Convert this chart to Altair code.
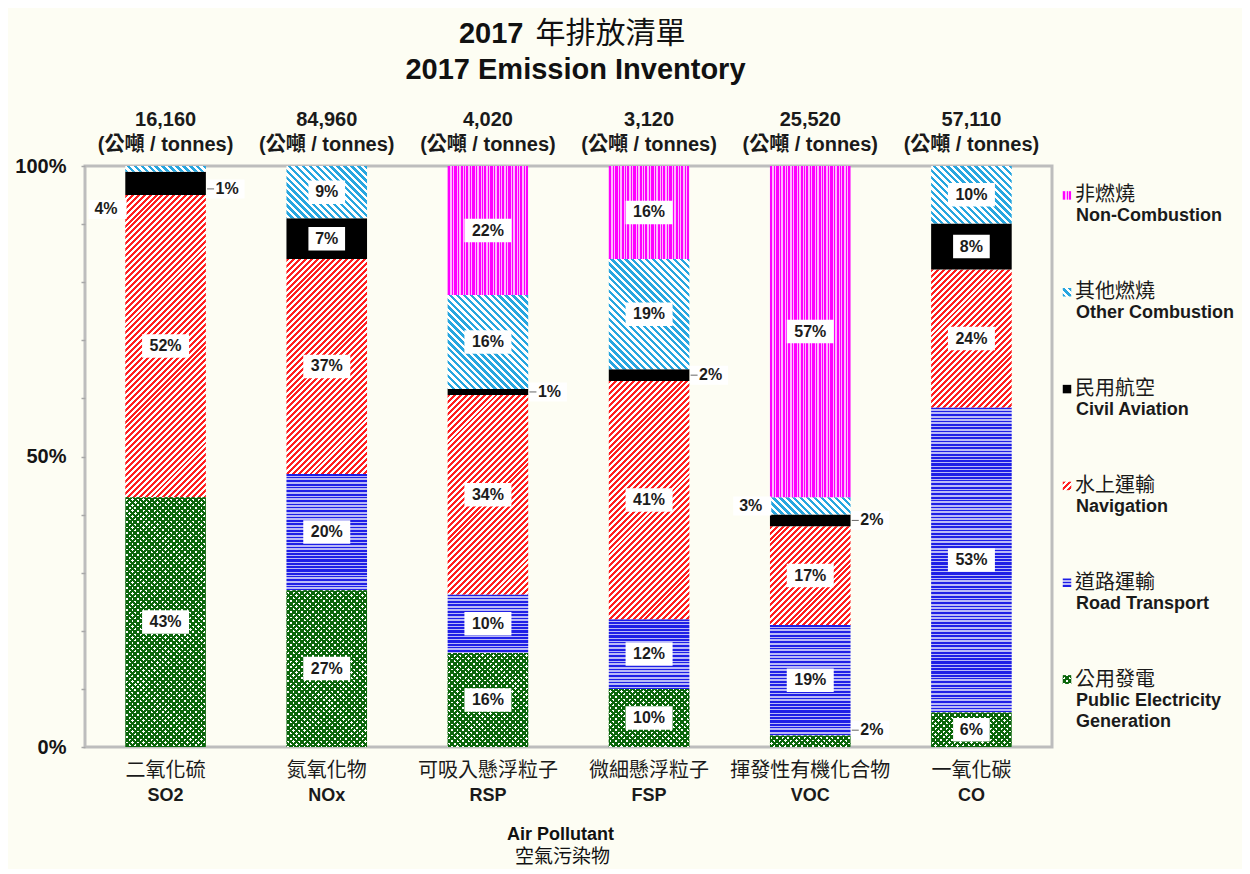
import math
import altair as alt
import pandas as pd

# ---------------- data ----------------
pollutants = ["SO2", "NOx", "RSP", "FSP", "VOC", "CO"]
pollutants_zh = ["二氧化硫", "氮氧化物", "可吸入懸浮粒子", "微細懸浮粒子", "揮發性有機化合物", "一氧化碳"]
totals = ["16,160", "84,960", "4,020", "3,120", "25,520", "57,110"]

source_keys = ["PE", "Road", "Nav", "Civil", "Other", "NonComb"]  # bottom -> top
source_en = ["Public Electricity\nGeneration", "Road Transport", "Navigation",
             "Civil Aviation", "Other Combustion", "Non-Combustion"]
source_zh = ["公用發電", "道路運輸", "水上運輸", "民用航空", "其他燃燒", "非燃燒"]

# percentage shares, one value per pollutant (SO2, NOx, RSP, FSP, VOC, CO)
public_electricity = [43, 27, 16, 10, 2, 6]
road_transport = [0, 20, 10, 12, 19, 53]
navigation = [52, 37, 34, 41, 17, 24]
civil_aviation = [4, 7, 1, 2, 2, 8]
other_combustion = [1, 9, 16, 19, 3, 10]
non_combustion = [0, 0, 22, 16, 57, 0]

series = [public_electricity, road_transport, navigation,
          civil_aviation, other_combustion, non_combustion]

# labels drawn outside the bar (side) and small vertical nudges in px
label_side = {("SO2", "Civil"): "left", ("SO2", "Other"): "right",
              ("RSP", "Civil"): "right", ("FSP", "Civil"): "right",
              ("VOC", "Other"): "left", ("VOC", "Civil"): "right",
              ("VOC", "PE"): "right"}
label_nudge = {("SO2", "Civil"): 26, ("SO2", "Other"): 20, ("VOC", "PE"): -11}

# ---------------- layout / style ----------------
FONT = "Liberation Sans, Noto Sans CJK TC, sans-serif"
W, H = 967, 581
STEP = W / 6.0
BW = STEP * 0.5
SQ2 = math.sqrt(2.0)


def stripe_gradient(w, h, direction, seq, c_on, c_off):
    """Linear gradient with hard stops that renders as a stripe pattern."""
    if direction == "h":
        x1, y1, x2, y2, L = 0, 0, 1e-6, 1, h
    elif direction == "v":
        x1, y1, x2, y2, L = 0, 0, 1, 0, w
    else:
        k = (w + h) / (w * w + h * h)
        L = (w + h) / SQ2
        if direction == "fwd":
            x1, y1, x2, y2 = 0, 0, w * k, h * k
        else:
            x1, y1, x2, y2 = 1, 0, 1 - w * k, h * k
    stops = []
    pos = 0.0
    i = 0
    while pos < L:
        on, off = seq[i % len(seq)]
        a = pos / L
        b = min((pos + on) / L, 1.0)
        c = min((pos + on + off) / L, 1.0)
        stops += [{"offset": round(a, 5), "color": c_on},
                  {"offset": round(b, 5), "color": c_on},
                  {"offset": round(b, 5), "color": c_off},
                  {"offset": round(c, 5), "color": c_off}]
        pos += on + off
        i += 1
    return {"gradient": "linear", "x1": round(x1, 6), "y1": round(y1, 6),
            "x2": round(x2, 6), "y2": round(y2, 6), "stops": stops}


PATTERNS = {
    "PE": ("fwd", [(2.1, 1.8)], "#0b660b", "#ffffff"),
    "Road": ("h", [(1.8, 1.5), (1.2, 1.8), (2.2, 1.4)], "#1f1fe6", "#b9b9f7"),
    "Nav": ("fwd", [(2.1, 2.1)], "#ff1f1f", "#ffffff"),
    "Other": ("back", [(2.4, 2.5)], "#27a6df", "#ffffff"),
    "NonComb": ("v", [(2, 2), (1, 1), (3, 1), (1, 2), (2, 1), (1, 1)], "#ff00ff", "#ffb6ff"),
}
PE_OVER = ("back", [(2.1, 1.8)], "#0b660b", "rgba(255,255,255,0)")


def fill_for(key, w, h, over=False):
    if key == "Civil":
        return "#000000"
    d, seq, con, coff = PE_OVER if over else PATTERNS[key]
    return stripe_gradient(w, h, d, seq, con, coff)


# ---------------- tables ----------------
rows = []
for j, p in enumerate(pollutants):
    tot = float(sum(s[j] for s in series))
    cum = 0.0
    for i, k in enumerate(source_keys):
        v = series[i][j]
        if v == 0:
            continue
        mid = (cum + v / 2.0) / tot
        cum += v
        side = label_side.get((p, k), "in")
        nudge = label_nudge.get((p, k), 0)
        rows.append({"pollutant": p, "source": k, "ord": i, "value": v,
                     "key": f"{p}|{k}", "lab": f"{v}%", "mid": mid,
                     "ly": mid - nudge / H, "side": side, "hpx": v / tot * H})
df = pd.DataFrame(rows)

conds = [{"test": f"datum.key === '{r['key']}'", "value": fill_for(r["source"], BW, r["hpx"])}
         for r in rows]
conds_pe = [{"test": f"datum.key === '{r['key']}'", "value": fill_for("PE", BW, r["hpx"], over=True)}
            for r in rows if r["source"] == "PE"]

xscale = alt.Scale(domain=pollutants, paddingInner=0.5, paddingOuter=0.25)
X = alt.X("pollutant:N", scale=xscale, axis=None, sort=pollutants)

yaxis = alt.Axis(values=[0, 0.1, 0.2, 0.3, 0.4, 0.5, 0.6, 0.7, 0.8, 0.9, 1],
                 labelExpr="(datum.value == 0 || datum.value == 0.5 || datum.value == 1) ? format(datum.value, '.0%') : ''",
                 domain=False, grid=False, ticks=True, tickSize=4, tickColor="#a8a8a8",
                 tickWidth=1.5, labelFont=FONT, labelFontSize=20, labelFontWeight="bold",
                 labelColor="#151515", labelPadding=15, labelOverlap=False, labelFlush=False)
yscale = alt.Scale(domain=[0, 1], nice=False)

bars = alt.Chart(df).mark_bar(strokeWidth=0).encode(
    x=X,
    y=alt.Y("value:Q", stack="normalize", scale=yscale, axis=yaxis, title=None),
    order=alt.Order("ord:Q", sort="ascending"),
    fill={"condition": conds, "value": "#cccccc"},
)
bars_pe = alt.Chart(df).mark_bar(strokeWidth=0).encode(
    x=X,
    y=alt.Y("value:Q", stack="normalize", scale=yscale, title=None),
    order=alt.Order("ord:Q", sort="ascending"),
    fill={"condition": conds_pe, "value": "rgba(255,255,255,0)"},
)

BOX_BIG = "M-1,-0.5H1V0.5H-1Z"
BOX_SMALL = "M-0.78,-0.5H0.78V0.5H-0.78Z"

df_in = df[df["side"] == "in"]
df_r = df[df["side"] == "right"]
df_l = df[df["side"] == "left"]

Yl = alt.Y("ly:Q", scale=yscale, stack=None, title=None)

boxes_in = alt.Chart(df_in).mark_point(filled=True, color="white", opacity=1, size=2209, strokeWidth=0).encode(
    x=X, y=Yl,
    shape=alt.condition("datum.value < 10", alt.value(BOX_SMALL), alt.value(BOX_BIG)),
)
text_in = alt.Chart(df_in).mark_text(font=FONT, fontSize=16, fontWeight="bold", color="#1c1c1c",
                                     baseline="middle").encode(x=X, y=Yl, text="lab:N")

boxes_r = alt.Chart(df_r).mark_point(filled=True, color="white", opacity=1, size=1444, strokeWidth=0,
                                     shape=BOX_BIG, xOffset=60).encode(x=X, y=Yl)
text_r = alt.Chart(df_r).mark_text(font=FONT, fontSize=16, fontWeight="bold", color="#1c1c1c",
                                   align="left", baseline="middle", dx=50).encode(x=X, y=Yl, text="lab:N")
lead_r = alt.Chart(df_r).mark_tick(size=7, thickness=1, color="#666666", xOffset=45, opacity=1).encode(
    x=X, y=alt.Y("ly:Q", scale=yscale, stack=None, title=None))

boxes_l = alt.Chart(df_l).mark_point(filled=True, color="white", opacity=1, size=1444, strokeWidth=0,
                                     shape=BOX_BIG, xOffset=-58).encode(x=X, y=Yl)
text_l = alt.Chart(df_l).mark_text(font=FONT, fontSize=16, fontWeight="bold", color="#1c1c1c",
                                   align="right", baseline="middle", dx=-48).encode(x=X, y=Yl, text="lab:N")

df_p = pd.DataFrame({"pollutant": pollutants, "zh": pollutants_zh, "total": totals,
                     "unit": ["(公噸 / tonnes)"] * len(pollutants)})
top1 = alt.Chart(df_p).mark_text(font=FONT, fontSize=20, fontWeight="bold", color="#1a1a1a",
                                 baseline="middle", dy=-46).encode(x=X, y=alt.datum(1), text="total:N")
top2 = alt.Chart(df_p).mark_text(font=FONT, fontSize=20, fontWeight="bold", color="#1a1a1a",
                                 baseline="middle", dy=-21).encode(x=X, y=alt.datum(1), text="unit:N")
bot1 = alt.Chart(df_p).mark_text(font=FONT, fontSize=20, fontWeight="normal", color="#1a1a1a",
                                 baseline="middle", dy=24).encode(x=X, y=alt.datum(0), text="zh:N")
bot2 = alt.Chart(df_p).mark_text(font=FONT, fontSize=18, fontWeight="bold", color="#1a1a1a",
                                 baseline="middle", dy=49).encode(x=X, y=alt.datum(0), text="pollutant:N")

one = pd.DataFrame({"a": [0]})


def free_text(txt, x, y, size, weight, align="center"):
    return alt.Chart(one).mark_text(font=FONT, fontSize=size, fontWeight=weight, color="#111111",
                                    align=align, baseline="middle").encode(
        x=alt.value(x), y=alt.value(y), text=alt.value(txt))


t_a = free_text("2017", W / 2 - 45, -132, 29, "bold", "right")
t_b = free_text("年排放清單", W / 2 - 33, -132, 30, "normal", "left")
t_c = free_text("2017 Emission Inventory", W / 2 + 7, -96, 29, "bold")
ax_a = free_text("Air Pollutant", W / 2 - 8, H + 88, 18, "bold")
ax_b = free_text("空氣污染物", W / 2 - 6, H + 110, 19, "normal")

main = alt.layer(bars, bars_pe, boxes_in, text_in, boxes_r, lead_r, text_r, boxes_l, text_l,
                 top1, top2, bot1, bot2, t_a, t_b, t_c, ax_a, ax_b)

# ---------------- legend ----------------
leg_order = list(reversed(source_keys))
df_leg = pd.DataFrame({"key": source_keys, "zh": source_zh, "en": source_en})
lscale = alt.Scale(type="point", domain=leg_order, padding=0.5)
LY = alt.Y("key:N", scale=lscale, axis=None, title=None)
SYM = math.sqrt(72)
lconds = [{"test": f"datum.key === '{k}'", "value": fill_for(k, SYM, SYM)} for k in source_keys]
sym = alt.Chart(df_leg).mark_square(size=72, opacity=1, strokeWidth=0, yOffset=-19).encode(
    x=alt.value(982), y=LY, fill={"condition": lconds, "value": "#ccc"})
sym_pe = alt.Chart(df_leg).mark_square(size=72, opacity=1, strokeWidth=0, yOffset=-19).encode(
    x=alt.value(982), y=LY,
    fill={"condition": [{"test": "datum.key === 'PE'", "value": fill_for("PE", SYM, SYM, over=True)}],
          "value": "rgba(255,255,255,0)"})
leg_zh = alt.Chart(df_leg).mark_text(font=FONT, fontSize=20, fontWeight="normal", color="#1a1a1a",
                                     align="left", baseline="middle", dy=-19).encode(
    x=alt.value(990), y=LY, text="zh:N")
leg_en = alt.Chart(df_leg).mark_text(font=FONT, fontSize=18, fontWeight="bold", color="#1a1a1a",
                                     align="left", baseline="top", dy=-7, lineBreak="\n",
                                     lineHeight=21).encode(
    x=alt.value(991), y=LY, text="en:N")
legend = alt.layer(sym, sym_pe, leg_zh, leg_en)

chart = alt.layer(main, legend).resolve_scale(y="independent").properties(
    width=W, height=H,
    autosize=alt.AutoSizeParams(type="none"),
    padding={"left": 77, "top": 158, "right": 190, "bottom": 122},
).configure(background="#FDFDF3").configure_view(stroke="#BDBDBD", strokeWidth=3)

chart.save("out.html", embed_options={"renderer": "svg", "actions": False})
